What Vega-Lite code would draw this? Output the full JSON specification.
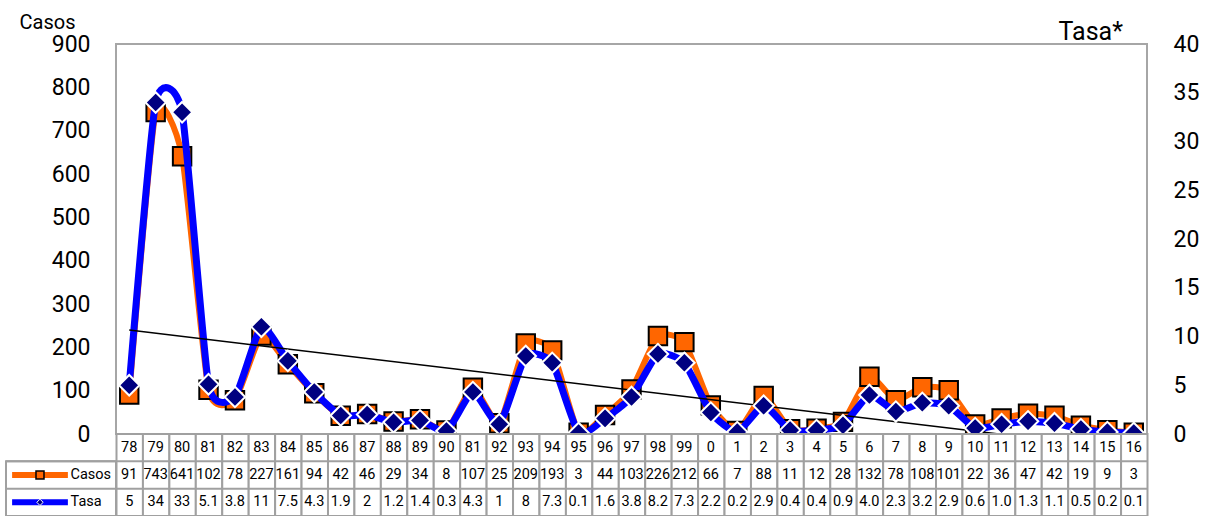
{
  "$schema": "https://vega.github.io/schema/vega-lite/v6.json",
  "width": 1031,
  "height": 390,
  "autosize": "none",
  "padding": {"left": 116, "top": 44, "right": 64, "bottom": 82},
  "background": "white",
  "config": {
    "view": {"stroke": "#a6a6a6", "strokeWidth": 2},
    "font": "Roboto",
    "text": {"font": "Roboto"}
  },
  "datasets": {
    "main": [
      {"n": 1, "year": "78", "casos": 91, "tasa": 5, "tasaLabel": "5"},
      {"n": 2, "year": "79", "casos": 743, "tasa": 34, "tasaLabel": "34"},
      {"n": 3, "year": "80", "casos": 641, "tasa": 33, "tasaLabel": "33"},
      {"n": 4, "year": "81", "casos": 102, "tasa": 5.1, "tasaLabel": "5.1"},
      {"n": 5, "year": "82", "casos": 78, "tasa": 3.8, "tasaLabel": "3.8"},
      {"n": 6, "year": "83", "casos": 227, "tasa": 11, "tasaLabel": "11"},
      {"n": 7, "year": "84", "casos": 161, "tasa": 7.5, "tasaLabel": "7.5"},
      {"n": 8, "year": "85", "casos": 94, "tasa": 4.3, "tasaLabel": "4.3"},
      {"n": 9, "year": "86", "casos": 42, "tasa": 1.9, "tasaLabel": "1.9"},
      {"n": 10, "year": "87", "casos": 46, "tasa": 2, "tasaLabel": "2"},
      {"n": 11, "year": "88", "casos": 29, "tasa": 1.2, "tasaLabel": "1.2"},
      {"n": 12, "year": "89", "casos": 34, "tasa": 1.4, "tasaLabel": "1.4"},
      {"n": 13, "year": "90", "casos": 8, "tasa": 0.3, "tasaLabel": "0.3"},
      {"n": 14, "year": "81", "casos": 107, "tasa": 4.3, "tasaLabel": "4.3"},
      {"n": 15, "year": "92", "casos": 25, "tasa": 1, "tasaLabel": "1"},
      {"n": 16, "year": "93", "casos": 209, "tasa": 8, "tasaLabel": "8"},
      {"n": 17, "year": "94", "casos": 193, "tasa": 7.3, "tasaLabel": "7.3"},
      {"n": 18, "year": "95", "casos": 3, "tasa": 0.1, "tasaLabel": "0.1"},
      {"n": 19, "year": "96", "casos": 44, "tasa": 1.6, "tasaLabel": "1.6"},
      {"n": 20, "year": "97", "casos": 103, "tasa": 3.8, "tasaLabel": "3.8"},
      {"n": 21, "year": "98", "casos": 226, "tasa": 8.2, "tasaLabel": "8.2"},
      {"n": 22, "year": "99", "casos": 212, "tasa": 7.3, "tasaLabel": "7.3"},
      {"n": 23, "year": "0", "casos": 66, "tasa": 2.2, "tasaLabel": "2.2"},
      {"n": 24, "year": "1", "casos": 7, "tasa": 0.2, "tasaLabel": "0.2"},
      {"n": 25, "year": "2", "casos": 88, "tasa": 2.9, "tasaLabel": "2.9"},
      {"n": 26, "year": "3", "casos": 11, "tasa": 0.4, "tasaLabel": "0.4"},
      {"n": 27, "year": "4", "casos": 12, "tasa": 0.4, "tasaLabel": "0.4"},
      {"n": 28, "year": "5", "casos": 28, "tasa": 0.9, "tasaLabel": "0.9"},
      {"n": 29, "year": "6", "casos": 132, "tasa": 4.0, "tasaLabel": "4.0"},
      {"n": 30, "year": "7", "casos": 78, "tasa": 2.3, "tasaLabel": "2.3"},
      {"n": 31, "year": "8", "casos": 108, "tasa": 3.2, "tasaLabel": "3.2"},
      {"n": 32, "year": "9", "casos": 101, "tasa": 2.9, "tasaLabel": "2.9"},
      {"n": 33, "year": "10", "casos": 22, "tasa": 0.6, "tasaLabel": "0.6"},
      {"n": 34, "year": "11", "casos": 36, "tasa": 1.0, "tasaLabel": "1.0"},
      {"n": 35, "year": "12", "casos": 47, "tasa": 1.3, "tasaLabel": "1.3"},
      {"n": 36, "year": "13", "casos": 42, "tasa": 1.1, "tasaLabel": "1.1"},
      {"n": 37, "year": "14", "casos": 19, "tasa": 0.5, "tasaLabel": "0.5"},
      {"n": 38, "year": "15", "casos": 9, "tasa": 0.2, "tasaLabel": "0.2"},
      {"n": 39, "year": "16", "casos": 3, "tasa": 0.1, "tasaLabel": "0.1"}
    ],
    "trend": [
      {"n": 1, "casos": 240},
      {"n": 33.9, "casos": 0}
    ]
  },
  "data": {"name": "main"},
  "layer": [
    {
      "layer": [
        {
          "mark": {"type": "line", "interpolate": "cardinal", "tension": 0.45, "color": "#ff6600", "strokeWidth": 6},
          "encoding": {
            "x": {"field": "n", "type": "quantitative", "scale": {"domain": [0.5, 39.5], "nice": false, "zero": false}, "axis": null},
            "y": {
              "field": "casos", "type": "quantitative",
              "scale": {"domain": [0, 900], "nice": false, "zero": false},
              "axis": {
                "orient": "left", "values": [0, 100, 200, 300, 400, 500, 600, 700, 800, 900],
                "domain": false, "ticks": false, "grid": false,
                "labelFontSize": 23, "labelColor": "#000000", "labelPadding": 26, "labelFont": "Roboto",
                "title": "Casos", "titleAngle": 0, "titleAlign": "left", "titleBaseline": "alphabetic",
                "titleX": -97, "titleY": -16, "titleFontSize": 20, "titleFontWeight": "normal", "titleColor": "#000000", "titleFont": "Roboto"
              }
            }
          }
        },
        {
          "mark": {"type": "point", "shape": "square", "filled": true, "size": 340, "fill": "#ff6600", "stroke": "#000000", "strokeWidth": 2, "opacity": 1},
          "encoding": {
            "x": {"field": "n", "type": "quantitative", "scale": {"domain": [0.5, 39.5], "nice": false, "zero": false}, "axis": null},
            "y": {"field": "casos", "type": "quantitative", "scale": {"domain": [0, 900], "nice": false, "zero": false}}
          }
        }
      ]
    },
    {
      "mark": {"type": "line", "interpolate": "cardinal", "tension": 0.45, "color": "#0000ff", "strokeWidth": 7},
      "encoding": {
        "x": {"field": "n", "type": "quantitative", "scale": {"domain": [0.5, 39.5], "nice": false, "zero": false}, "axis": null},
        "y": {
          "field": "tasa", "type": "quantitative",
          "scale": {"domain": [0, 40], "nice": false, "zero": false},
          "axis": {
            "orient": "right", "values": [0, 5, 10, 15, 20, 25, 30, 35, 40],
            "domain": false, "ticks": false, "grid": false,
            "labelFontSize": 23, "labelColor": "#000000", "labelPadding": 26, "labelFont": "Roboto",
            "title": "Tasa*", "titleAngle": 0, "titleAlign": "left", "titleBaseline": "alphabetic",
            "titleX": -89, "titleY": -5, "titleFontSize": 25, "titleFontWeight": "normal", "titleColor": "#000000", "titleFont": "Roboto"
          }
        }
      }
    },
    {
      "data": {"name": "trend"},
      "mark": {"type": "line", "color": "#000000", "strokeWidth": 1.5},
      "encoding": {
        "x": {"field": "n", "type": "quantitative", "scale": {"domain": [0.5, 39.5], "nice": false, "zero": false}, "axis": null},
        "y": {"field": "casos", "type": "quantitative", "scale": {"domain": [0, 900], "nice": false, "zero": false}, "axis": null}
      }
    },
    {
      "mark": {"type": "point", "shape": "diamond", "filled": true, "size": 420, "fill": "#000080", "stroke": "#ffffff", "strokeWidth": 2, "opacity": 1},
      "encoding": {
        "x": {"field": "n", "type": "quantitative", "scale": {"domain": [0.5, 39.5], "nice": false, "zero": false}, "axis": null},
        "y": {"field": "tasa", "type": "quantitative", "scale": {"domain": [0, 40], "nice": false, "zero": false}, "axis": null}
      }
    },
    {
      "layer": [
        {
          "mark": {"type": "rect", "fill": "#ffffff", "stroke": "#a0a0a0", "strokeWidth": 2},
          "encoding": {
            "x": {"field": "n", "type": "quantitative", "bin": {"step": 1, "anchor": 0.5, "extent": [0.5, 39.5]}, "scale": {"domain": [0.5, 39.5], "nice": false, "zero": false}, "axis": null},
            "y": {"datum": 0, "type": "quantitative", "scale": {"domain": [0, 3], "range": [390, 472], "nice": false, "zero": false}, "axis": null},
            "y2": {"datum": 3}
          }
        },
        {
          "data": {"values": [{}]},
          "mark": {"type": "rect", "fill": "#ffffff", "stroke": "#a0a0a0", "strokeWidth": 2},
          "encoding": {
            "x": {"datum": -3.661, "type": "quantitative", "scale": {"domain": [0.5, 39.5], "nice": false, "zero": false}, "axis": null},
            "x2": {"datum": 0.5},
            "y": {"datum": 1, "type": "quantitative", "scale": {"domain": [0, 3], "range": [390, 472], "nice": false, "zero": false}, "axis": null},
            "y2": {"datum": 3}
          }
        },
        {
          "data": {"values": [{"r": 1}, {"r": 2}]},
          "mark": {"type": "rule", "color": "#a0a0a0", "strokeWidth": 2},
          "encoding": {
            "x": {"datum": -3.661, "type": "quantitative", "scale": {"domain": [0.5, 39.5], "nice": false, "zero": false}, "axis": null},
            "x2": {"datum": 39.5},
            "y": {"field": "r", "type": "quantitative", "scale": {"domain": [0, 3], "range": [390, 472], "nice": false, "zero": false}, "axis": null}
          }
        },
        {
          "mark": {"type": "text", "fontSize": 14.5, "color": "#000000", "baseline": "middle"},
          "encoding": {
            "x": {"field": "n", "type": "quantitative", "scale": {"domain": [0.5, 39.5], "nice": false, "zero": false}, "axis": null},
            "y": {"datum": 0.5, "type": "quantitative", "scale": {"domain": [0, 3], "range": [390, 472], "nice": false, "zero": false}, "axis": null},
            "text": {"field": "year", "type": "nominal"}
          }
        },
        {
          "mark": {"type": "text", "fontSize": 14.5, "color": "#000000", "baseline": "middle"},
          "encoding": {
            "x": {"field": "n", "type": "quantitative", "scale": {"domain": [0.5, 39.5], "nice": false, "zero": false}, "axis": null},
            "y": {"datum": 1.5, "type": "quantitative", "scale": {"domain": [0, 3], "range": [390, 472], "nice": false, "zero": false}, "axis": null},
            "text": {"field": "casos", "type": "nominal"}
          }
        },
        {
          "mark": {"type": "text", "fontSize": 14.5, "color": "#000000", "baseline": "middle"},
          "encoding": {
            "x": {"field": "n", "type": "quantitative", "scale": {"domain": [0.5, 39.5], "nice": false, "zero": false}, "axis": null},
            "y": {"datum": 2.5, "type": "quantitative", "scale": {"domain": [0, 3], "range": [390, 472], "nice": false, "zero": false}, "axis": null},
            "text": {"field": "tasaLabel", "type": "nominal"}
          }
        },
        {
          "data": {"values": [{}]},
          "mark": {"type": "rule", "color": "#ff6600", "strokeWidth": 6},
          "encoding": {
            "x": {"datum": -3.43, "type": "quantitative", "scale": {"domain": [0.5, 39.5], "nice": false, "zero": false}, "axis": null},
            "x2": {"datum": -1.32},
            "y": {"datum": 1.5, "type": "quantitative", "scale": {"domain": [0, 3], "range": [390, 472], "nice": false, "zero": false}, "axis": null}
          }
        },
        {
          "data": {"values": [{}]},
          "mark": {"type": "point", "shape": "square", "filled": true, "size": 64, "fill": "#ff6600", "stroke": "#000000", "strokeWidth": 1.5, "opacity": 1},
          "encoding": {
            "x": {"datum": -2.375, "type": "quantitative", "scale": {"domain": [0.5, 39.5], "nice": false, "zero": false}, "axis": null},
            "y": {"datum": 1.5, "type": "quantitative", "scale": {"domain": [0, 3], "range": [390, 472], "nice": false, "zero": false}, "axis": null}
          }
        },
        {
          "data": {"values": [{}]},
          "mark": {"type": "text", "text": "Casos", "fontSize": 14.5, "color": "#000000", "align": "left", "baseline": "middle"},
          "encoding": {
            "x": {"datum": -1.22, "type": "quantitative", "scale": {"domain": [0.5, 39.5], "nice": false, "zero": false}, "axis": null},
            "y": {"datum": 1.5, "type": "quantitative", "scale": {"domain": [0, 3], "range": [390, 472], "nice": false, "zero": false}, "axis": null}
          }
        },
        {
          "data": {"values": [{}]},
          "mark": {"type": "rule", "color": "#0000ff", "strokeWidth": 6},
          "encoding": {
            "x": {"datum": -3.43, "type": "quantitative", "scale": {"domain": [0.5, 39.5], "nice": false, "zero": false}, "axis": null},
            "x2": {"datum": -1.32},
            "y": {"datum": 2.5, "type": "quantitative", "scale": {"domain": [0, 3], "range": [390, 472], "nice": false, "zero": false}, "axis": null}
          }
        },
        {
          "data": {"values": [{}]},
          "mark": {"type": "point", "shape": "diamond", "filled": true, "size": 40, "fill": "#000080", "stroke": "#ffffff", "strokeWidth": 1, "opacity": 1},
          "encoding": {
            "x": {"datum": -2.375, "type": "quantitative", "scale": {"domain": [0.5, 39.5], "nice": false, "zero": false}, "axis": null},
            "y": {"datum": 2.5, "type": "quantitative", "scale": {"domain": [0, 3], "range": [390, 472], "nice": false, "zero": false}, "axis": null}
          }
        },
        {
          "data": {"values": [{}]},
          "mark": {"type": "text", "text": "Tasa", "fontSize": 14.5, "color": "#000000", "align": "left", "baseline": "middle"},
          "encoding": {
            "x": {"datum": -1.22, "type": "quantitative", "scale": {"domain": [0.5, 39.5], "nice": false, "zero": false}, "axis": null},
            "y": {"datum": 2.5, "type": "quantitative", "scale": {"domain": [0, 3], "range": [390, 472], "nice": false, "zero": false}, "axis": null}
          }
        }
      ]
    }
  ],
  "resolve": {"scale": {"y": "independent"}}
}
